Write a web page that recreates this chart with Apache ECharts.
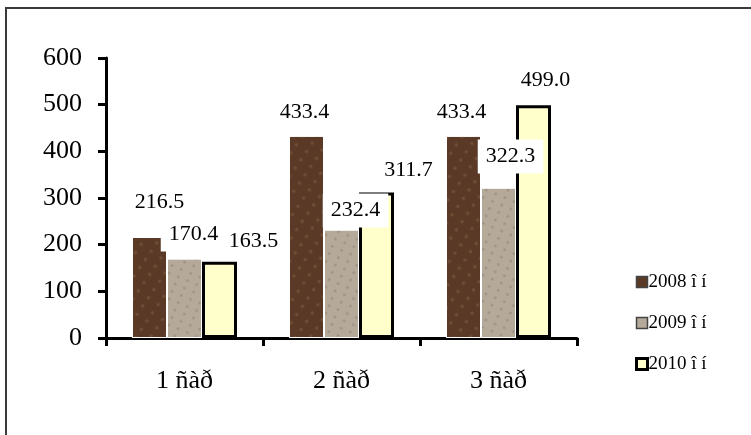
<!DOCTYPE html>
<html>
<head>
<meta charset="utf-8">
<script src="https://cdn.jsdelivr.net/npm/echarts@6/dist/echarts.min.js"></script>
<style>
html,body{margin:0;padding:0;background:#fff;}
#chart{width:751px;height:435px;}
</style>
</head>
<body>
<div id="chart"></div>
<script>
// ---- data ----
const categories = ['1 ñàð', '2 ñàð', '3 ñàð'];
const seriesNames = ['2008 î í', '2009 î í', '2010 î í'];
const values2008 = [216.5, 433.4, 433.4];
const values2009 = [170.4, 232.4, 322.3];
const values2010 = [163.5, 311.7, 499.0];
const yTicks = { min: 0, max: 600, interval: 100 };

// ---- styling (label offsets per bar, in px) ----
const labelOffsets = [
  [[10, -12], [-2, -1], [-2, -1]],
  [[9, 5], [14, 10], [12, -2]],
  [[34, 3], [32, 1], [12, -2]]
];
const labelBoxed = [
  [false, false, false],
  [true, true, true],
  [false, false, false]
];
const fills = ['#5a3a26', '#b5a999', '#ffffcc'];
const decals = [
  { symbol: 'circle', symbolSize: 0.9, color: 'rgba(140,100,70,0.45)', dashArrayX: [[5, 7]], dashArrayY: [4, 6], rotation: 0.6 },
  { symbol: 'circle', symbolSize: 0.9, color: 'rgba(110,100,90,0.35)', dashArrayX: [[4, 6]], dashArrayY: [3, 5], rotation: 0.4 },
  null
];
const FONT = '"Liberation Serif", "Times New Roman", serif';

const allValues = [values2008, values2009, values2010];

function buildSeries(i) {
  const isLast = i === 2;
  const style = {
    color: fills[i],
    borderColor: isLast ? '#000' : '#ffffff',
    borderWidth: isLast ? 3 : 1
  };
  if (decals[i]) style.decal = decals[i];
  return {
    name: seriesNames[i],
    type: 'bar',
    barWidth: 35,
    barGap: '0%',
    itemStyle: style,
    data: allValues[i].map((v, j) => ({
      value: v,
      label: {
        show: true,
        position: 'top',
        distance: 12,
        offset: labelOffsets[i][j],
        formatter: (p) => p.value.toFixed(1),
        fontFamily: FONT,
        fontSize: 22,
        color: '#000',
        backgroundColor: labelBoxed[i][j] ? '#ffffff' : 'transparent',
        padding: labelBoxed[i][j] ? [6, 8, 6, 8] : 0
      }
    }))
  };
}

const chart = echarts.init(document.getElementById('chart'), null, { renderer: 'canvas' });
chart.setOption({
  animation: false,
  backgroundColor: '#ffffff',
  aria: { enabled: false, decal: { show: true } },
  textStyle: { fontFamily: FONT },
  graphic: [{
    type: 'rect',
    shape: { x: 6, y: 8, width: 900, height: 600 },
    style: { fill: 'none', stroke: '#3a3a3a', lineWidth: 2 },
    z: 100
  }],
  grid: { left: 106, right: 174, top: 58, bottom: 97, containLabel: false },
  legend: {
    orient: 'vertical',
    left: 630,
    top: 267,
    itemWidth: 11,
    itemHeight: 11,
    itemGap: 21,
    icon: 'rect',
    textStyle: { fontFamily: FONT, fontSize: 19, color: '#000', padding: [0, 0, 0, -4], lineHeight: 20 },
    data: seriesNames.map((n, i) => ({
      name: n,
      itemStyle: { color: fills[i], borderColor: i === 2 ? '#000' : '#444', borderWidth: i === 2 ? 3 : 1.5, decal: 'none' }
    }))
  },
  xAxis: {
    type: 'category',
    data: categories,
    axisLine: { lineStyle: { color: '#000', width: 3 } },
    axisTick: { show: true, length: 8, lineStyle: { color: '#000', width: 3 } },
    axisLabel: { fontFamily: FONT, fontSize: 26, color: '#000', margin: 30 }
  },
  yAxis: {
    type: 'value',
    min: yTicks.min,
    max: yTicks.max,
    interval: yTicks.interval,
    splitLine: { show: false },
    axisLine: { show: true, lineStyle: { color: '#000', width: 3 } },
    axisTick: { show: true, length: 8, lineStyle: { color: '#000', width: 3 } },
    axisLabel: { fontFamily: FONT, fontSize: 26, color: '#000', margin: 24 }
  },
  series: [0, 1, 2].map(buildSeries)
});
</script>
</body>
</html>
